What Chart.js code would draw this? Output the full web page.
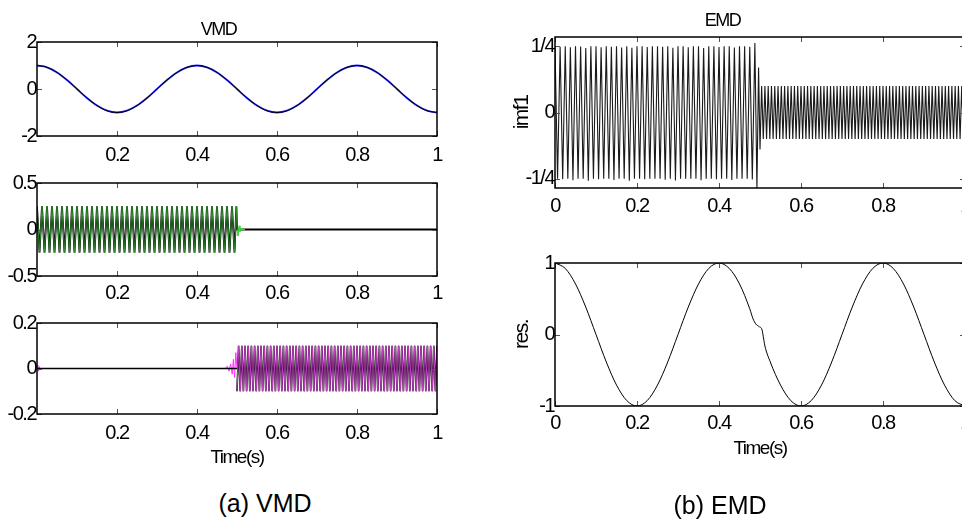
<!DOCTYPE html>
<html><head><meta charset="utf-8">
<script src="https://cdn.jsdelivr.net/npm/chart.js@4"></script>
<style>
html,body{margin:0;padding:0;background:#fff;overflow:hidden;width:962px;height:520px;}
#wrap{position:relative;width:962px;height:520px;overflow:hidden;background:#fff;}
canvas{position:absolute;}
.cap{position:absolute;font-family:'Liberation Sans',Arial,sans-serif;font-size:25px;color:#000;white-space:nowrap;transform:translate(-50%,-50%);}
</style></head><body>
<div id="wrap">
<canvas id="p1" width="470" height="175" style="left:0;top:0;"></canvas>
<canvas id="p2" width="470" height="170" style="left:0;top:150px;"></canvas>
<canvas id="p3" width="470" height="190" style="left:0;top:290px;"></canvas>
<canvas id="r1" width="568" height="230" style="left:480px;top:0;"></canvas>
<canvas id="r2" width="568" height="280" style="left:480px;top:240px;"></canvas>
<div class="cap" style="left:265px;top:503px;">(a) VMD</div>
<div class="cap" style="left:720px;top:505px;">(b) EMD</div>
</div>
<script>
// ---------- tick values / labels ----------
const leftXTicks = [0.2, 0.4, 0.6, 0.8, 1];
const leftXLabels = ['0.2', '0.4', '0.6', '0.8', '1'];
const rightXTicks = [0, 0.2, 0.4, 0.6, 0.8, 1];
const rightXLabels = ['0', '0.2', '0.4', '0.6', '0.8', '1'];
const vmd1YTicks = [-2, 0, 2];       const vmd1YLabels = ['-2', '0', '2'];
const vmd2YTicks = [-0.5, 0, 0.5];   const vmd2YLabels = ['-0.5', '0', '0.5'];
const vmd3YTicks = [-0.2, 0, 0.2];   const vmd3YLabels = ['-0.2', '0', '0.2'];
const imfYTicks = [-0.25, 0, 0.25];  const imfYLabels = ['-1/4', '0', '1/4'];
const resYTicks = [-1, 0, 1];        const resYLabels = ['-1', '0', '1'];

// ---------- VMD mode 1 / EMD residue (low-frequency component) ----------
const vmd1T = [0,0.025,0.05,0.075,0.1,0.125,0.15,0.175,0.2,0.225,0.25,0.275,0.3,0.325,0.35,0.375,0.4,0.425,0.45,0.475,0.5,0.525,0.55,0.575,0.6,0.625,0.65,0.675,0.7,0.725,0.75,0.775,0.8,0.825,0.85,0.875,0.9,0.925,0.95,0.975,1];
const vmd1V = [1,0.924,0.707,0.383,0,-0.383,-0.707,-0.924,-1,-0.924,-0.707,-0.383,0,0.383,0.707,0.924,1,0.924,0.707,0.383,0,-0.383,-0.707,-0.924,-1,-0.924,-0.707,-0.383,0,0.383,0.707,0.924,1,0.924,0.707,0.383,0,-0.383,-0.707,-0.924,-1];

const resT = [0,0.025,0.05,0.075,0.1,0.125,0.15,0.175,0.2,0.225,0.25,0.275,0.3,0.325,0.35,0.375,0.4,0.425,0.45,
  0.475,0.483,0.49,0.498,0.505,0.508,0.512,0.525,
  0.55,0.575,0.6,0.625,0.65,0.675,0.7,0.725,0.75,0.775,0.8,0.825,0.85,0.875,0.9,0.925,0.95,0.975,1];
const resV = [1,0.924,0.707,0.383,0,-0.383,-0.707,-0.924,-1,-0.924,-0.707,-0.383,0,0.383,0.707,0.924,1,0.924,0.707,
  0.36,0.22,0.145,0.11,0.065,-0.03,-0.16,-0.383,
  -0.707,-0.924,-1,-0.924,-0.707,-0.383,0,0.383,0.707,0.924,1,0.924,0.707,0.383,0,-0.383,-0.707,-0.924,-1];

// ---------- times of the 80 Hz component extremes (first half) ----------
const hfT = [0,0.00625,0.0125,0.01875,0.025,0.03125,0.0375,0.04375,0.05,0.05625,
  0.0625,0.06875,0.075,0.08125,0.0875,0.09375,0.1,0.10625,0.1125,0.11875,
  0.125,0.13125,0.1375,0.14375,0.15,0.15625,0.1625,0.16875,0.175,0.18125,
  0.1875,0.19375,0.2,0.20625,0.2125,0.21875,0.225,0.23125,0.2375,0.24375,
  0.25,0.25625,0.2625,0.26875,0.275,0.28125,0.2875,0.29375,0.3,0.30625,
  0.3125,0.31875,0.325,0.33125,0.3375,0.34375,0.35,0.35625,0.3625,0.36875,
  0.375,0.38125,0.3875,0.39375,0.4,0.40625,0.4125,0.41875,0.425,0.43125,
  0.4375,0.44375,0.45,0.45625,0.4625,0.46875,0.475,0.48125,0.4875,0.49375,0.4985,0.5,1];
const vmd2V = [0.25,-0.25,0.25,-0.25,0.25,-0.25,0.25,-0.25,0.25,-0.25,
  0.25,-0.25,0.25,-0.25,0.25,-0.25,0.25,-0.25,0.25,-0.25,
  0.25,-0.25,0.25,-0.25,0.25,-0.25,0.25,-0.25,0.25,-0.25,
  0.25,-0.25,0.25,-0.25,0.25,-0.25,0.25,-0.25,0.25,-0.25,
  0.25,-0.25,0.25,-0.25,0.25,-0.25,0.25,-0.25,0.25,-0.25,
  0.25,-0.25,0.25,-0.25,0.25,-0.25,0.25,-0.25,0.25,-0.25,
  0.25,-0.25,0.25,-0.25,0.25,-0.25,0.25,-0.25,0.25,-0.25,
  0.25,-0.25,0.25,-0.25,0.25,-0.25,0.25,-0.25,0.25,-0.25,0.25,0,0];
const greenTailT = [0.5,0.5025,0.505,0.5075,0.51,0.5125,0.515,0.52];
const greenTailV = [0,-0.07,0.04,-0.025,0.012,-0.005,0,0];

// ---------- times of the 125 Hz component extremes (second half) ----------
const t125 = [0.5,0.504,0.508,0.512,0.516,0.52,0.524,0.528,0.532,0.536,
  0.54,0.544,0.548,0.552,0.556,0.56,0.564,0.568,0.572,0.576,
  0.58,0.584,0.588,0.592,0.596,0.6,0.604,0.608,0.612,0.616,
  0.62,0.624,0.628,0.632,0.636,0.64,0.644,0.648,0.652,0.656,
  0.66,0.664,0.668,0.672,0.676,0.68,0.684,0.688,0.692,0.696,
  0.7,0.704,0.708,0.712,0.716,0.72,0.724,0.728,0.732,0.736,
  0.74,0.744,0.748,0.752,0.756,0.76,0.764,0.768,0.772,0.776,
  0.78,0.784,0.788,0.792,0.796,0.8,0.804,0.808,0.812,0.816,
  0.82,0.824,0.828,0.832,0.836,0.84,0.844,0.848,0.852,0.856,
  0.86,0.864,0.868,0.872,0.876,0.88,0.884,0.888,0.892,0.896,
  0.9,0.904,0.908,0.912,0.916,0.92,0.924,0.928,0.932,0.936,
  0.94,0.944,0.948,0.952,0.956,0.96,0.964,0.968,0.972,0.976,
  0.98,0.984,0.988,0.992,0.996,1];
const vmd3V = [-0.1,0.1,-0.1,0.1,-0.1,0.1,-0.1,0.1,-0.1,0.1,
  -0.1,0.1,-0.1,0.1,-0.1,0.1,-0.1,0.1,-0.1,0.1,
  -0.1,0.1,-0.1,0.1,-0.1,0.1,-0.1,0.1,-0.1,0.1,
  -0.1,0.1,-0.1,0.1,-0.1,0.1,-0.1,0.1,-0.1,0.1,
  -0.1,0.1,-0.1,0.1,-0.1,0.1,-0.1,0.1,-0.1,0.1,
  -0.1,0.1,-0.1,0.1,-0.1,0.1,-0.1,0.1,-0.1,0.1,
  -0.1,0.1,-0.1,0.1,-0.1,0.1,-0.1,0.1,-0.1,0.1,
  -0.1,0.1,-0.1,0.1,-0.1,0.1,-0.1,0.1,-0.1,0.1,
  -0.1,0.1,-0.1,0.1,-0.1,0.1,-0.1,0.1,-0.1,0.1,
  -0.1,0.1,-0.1,0.1,-0.1,0.1,-0.1,0.1,-0.1,0.1,
  -0.1,0.1,-0.1,0.1,-0.1,0.1,-0.1,0.1,-0.1,0.1,
  -0.1,0.1,-0.1,0.1,-0.1,0.1,-0.1,0.1,-0.1,0.1,
  -0.1,0.1,-0.1,0.1,-0.1,0.1];
const vmd3FlatT = [0, 0.5];
const vmd3FlatV = [0, 0];
const magStartT = [0,0.002,0.004,0.006,0.008,0.012];
const magStartV = [0,0.015,-0.012,0.008,-0.004,0];
const magEndT = [0.47,0.476,0.48,0.484,0.488,0.491,0.494,0.497,0.5];
const magEndV = [0,0.01,-0.012,0.02,-0.025,0.04,-0.04,0.07,0];

// ---------- EMD imf1 ----------
const imf1aV = [0.25,-0.25,0.248,-0.252,0.25,-0.25,0.246,-0.256,0.25,-0.25,
  0.249,-0.25,0.243,-0.258,0.25,-0.25,0.25,-0.252,0.246,-0.25,
  0.25,-0.25,0.248,-0.255,0.25,-0.25,0.245,-0.25,0.25,-0.258,
  0.244,-0.25,0.25,-0.25,0.25,-0.252,0.247,-0.25,0.25,-0.25,
  0.25,-0.25,0.248,-0.254,0.25,-0.25,0.244,-0.257,0.25,-0.25,
  0.25,-0.25,0.246,-0.25,0.25,-0.25,0.25,-0.256,0.243,-0.25,
  0.25,-0.25,0.25,-0.252,0.247,-0.25,0.25,-0.25,0.25,-0.255,
  0.245,-0.25,0.25,-0.25,0.25,-0.25,0.248,-0.253,0.262];
const imfMidT = [0.4925, 0.4965, 0.5];
const imfMidV = [-0.29, 0.17, -0.14];
const imf1bV = [0.1,-0.1,0.1,-0.1,0.1,-0.1,0.1,-0.1,0.1,-0.1,
  0.1,-0.1,0.1,-0.1,0.1,-0.1,0.1,-0.1,0.1,-0.1,
  0.1,-0.1,0.1,-0.1,0.1,-0.1,0.1,-0.1,0.1,-0.1,
  0.1,-0.1,0.1,-0.1,0.1,-0.1,0.1,-0.1,0.1,-0.1,
  0.1,-0.1,0.1,-0.1,0.1,-0.1,0.1,-0.1,0.1,-0.1,
  0.1,-0.1,0.1,-0.1,0.1,-0.1,0.1,-0.1,0.1,-0.1,
  0.1,-0.1,0.1,-0.1,0.1,-0.1,0.1,-0.1,0.1,-0.1,
  0.1,-0.1,0.1,-0.1,0.1,-0.1,0.1,-0.1,0.1,-0.1,
  0.1,-0.1,0.1,-0.1,0.1,-0.1,0.1,-0.1,0.1,-0.1,
  0.1,-0.1,0.1,-0.1,0.1,-0.1,0.1,-0.1,0.1,-0.1,
  0.1,-0.1,0.1,-0.1,0.1,-0.1,0.1,-0.1,0.1,-0.1,
  0.1,-0.1,0.1,-0.1,0.1,-0.1,0.1,-0.1,0.1,-0.1,
  0.1,-0.1,0.1,-0.1,0.1];

// ---------- helpers ----------
const FONT = "'Liberation Sans',Arial,sans-serif";
function xy(ts, vs) { return ts.map((t, i) => ({x: t, y: vs[i]})); }
function line(data, color, width, extra) {
  return Object.assign({data, borderColor: color, borderWidth: width, pointRadius: 0, tension: 0, fill: false}, extra || {});
}

// MATLAB-like box with inward tick marks; condensed-looking text
const framePlugin = {
  id: 'frame',
  beforeDraw(chart) { chart.ctx.letterSpacing = '-1.5px'; },
  afterDatasetsDraw(chart) {
    const {ctx, chartArea: a, scales} = chart;
    ctx.save();
    ctx.strokeStyle = '#555';
    ctx.lineWidth = 1;
    ctx.beginPath();
    scales.x.ticks.forEach(t => {
      const p = Math.round(scales.x.getPixelForValue(t.value)) + 0.5;
      ctx.moveTo(p, a.bottom); ctx.lineTo(p, a.bottom - 5);
      ctx.moveTo(p, a.top); ctx.lineTo(p, a.top + 5);
    });
    scales.y.ticks.forEach(t => {
      const p = Math.round(scales.y.getPixelForValue(t.value)) + 0.5;
      ctx.moveTo(a.left, p); ctx.lineTo(a.left + 5, p);
      ctx.moveTo(a.right, p); ctx.lineTo(a.right - 5, p);
    });
    ctx.stroke();
    ctx.strokeStyle = '#000';
    ctx.lineWidth = 1.5;
    ctx.strokeRect(a.left, a.top, a.right - a.left, a.bottom - a.top);
    ctx.restore();
  },
  afterDraw(chart) { chart.ctx.letterSpacing = '0px'; }
};

function makePanel(id, g) {
  const tickFont = {family: FONT, size: 20, lineHeight: 1};
  return new Chart(document.getElementById(id), {
    type: 'line',
    data: {datasets: g.datasets},
    options: {
      responsive: false, animation: false, events: [],
      layout: {padding: {left: 0, right: g.padRight, top: g.padTop, bottom: g.padBottom}},
      plugins: {
        legend: {display: false}, tooltip: {enabled: false},
        title: g.title ? {display: true, text: g.title.text, color: '#000',
          font: {family: FONT, size: 18, lineHeight: 1, weight: 'normal'},
          padding: {top: g.title.pt, bottom: g.title.pb}} : {display: false}
      },
      scales: {
        x: {
          type: 'linear', min: g.xmin, max: g.xmax,
          grid: {display: false, drawTicks: false}, border: {display: false},
          afterBuildTicks: s => { s.ticks = g.xTicks.map(v => ({value: v})); },
          afterFit: s => { s.height = g.xh; },
          ticks: {color: '#000', padding: g.xTickPad, maxRotation: 0, autoSkip: false, font: tickFont,
            callback: v => g.xLabels[g.xTicks.indexOf(v)]},
          title: g.xTitle ? {display: true, text: g.xTitle.text, color: '#000',
            font: {family: FONT, size: 19, lineHeight: 1}, padding: {top: 0, bottom: g.xTitle.pb}} : {display: false}
        },
        y: {
          type: 'linear', min: g.ymin, max: g.ymax,
          grid: {display: false, drawTicks: false}, border: {display: false},
          afterBuildTicks: s => { s.ticks = g.yTicks.map(v => ({value: v})); },
          afterFit: s => { s.width = g.yw; },
          ticks: {color: '#000', padding: 1, autoSkip: false, font: tickFont,
            callback: v => g.yLabels[g.yTicks.indexOf(v)]},
          title: g.yTitle ? {display: true, text: g.yTitle.text, color: '#000',
            font: {family: FONT, size: 21, lineHeight: 1}, padding: {top: g.yTitle.pt, bottom: 0}} : {display: false}
        }
      }
    },
    plugins: [framePlugin]
  });
}

// ---------- VMD panels ----------
makePanel('p1', {
  padRight: 33, padTop: 0, padBottom: 0, xh: 39, yw: 37, xTickPad: 9,
  xmin: 0, xmax: 1, ymin: -2, ymax: 2,
  xTicks: leftXTicks, xLabels: leftXLabels, yTicks: vmd1YTicks, yLabels: vmd1YLabels,
  title: {text: 'VMD', pt: 21, pb: 3},
  datasets: [
    line(xy(vmd1T, vmd1V), '#000000', 1, {cubicInterpolationMode: 'monotone'}),
    line(xy(vmd1T, vmd1V), '#2020ff', 1.8, {cubicInterpolationMode: 'monotone'})
  ]
});

makePanel('p2', {
  padRight: 33, padTop: 33, padBottom: 5, xh: 39, yw: 37, xTickPad: 7,
  xmin: 0, xmax: 1, ymin: -0.5, ymax: 0.5,
  xTicks: leftXTicks, xLabels: leftXLabels, yTicks: vmd2YTicks, yLabels: vmd2YLabels,
  datasets: [
    line(xy(greenTailT, greenTailV), '#33dd33', 1),
    line(xy(hfT.slice(0, 82), vmd2V.slice(0, 82)), '#2f8f2f', 1),
    line(xy(hfT, vmd2V), '#000000', 1.8)
  ]
});

makePanel('p3', {
  padRight: 33, padTop: 33, padBottom: 0, xh: 66, yw: 37, xTickPad: 9,
  xmin: 0, xmax: 1, ymin: -0.2, ymax: 0.2,
  xTicks: leftXTicks, xLabels: leftXLabels, yTicks: vmd3YTicks, yLabels: vmd3YLabels,
  xTitle: {text: 'Time(s)', pb: 13},
  datasets: [
    line(xy(vmd3FlatT, vmd3FlatV), '#000000', 1.3),
    line(xy(magStartT, magStartV), '#ff33ff', 1),
    line(xy(magEndT, magEndV), '#ff33ff', 1),
    line(xy(t125, vmd3V), '#c040c0', 1),
    line(xy(t125, vmd3V), '#000000', 1.6)
  ]
});

// ---------- EMD panels ----------
makePanel('r1', {
  padRight: 83, padTop: 0, padBottom: 0, xh: 42, yw: 75, xTickPad: 8,
  xmin: 0, xmax: 1, ymin: -0.285, ymax: 0.285,
  xTicks: rightXTicks, xLabels: rightXLabels, yTicks: imfYTicks, yLabels: imfYLabels,
  title: {text: 'EMD', pt: 12, pb: 7},
  yTitle: {text: 'imf1', pt: 32},
  datasets: [
    line(xy(hfT.slice(0, 79).concat(imfMidT, t125.slice(1)), imf1aV.concat(imfMidV, imf1bV)), '#1a1a1a', 1.1)
  ]
});

makePanel('r2', {
  padRight: 83, padTop: 23, padBottom: 54, xh: 60, yw: 75, xTickPad: 7,
  xmin: 0, xmax: 1, ymin: -1, ymax: 1,
  xTicks: rightXTicks, xLabels: rightXLabels, yTicks: resYTicks, yLabels: resYLabels,
  xTitle: {text: 'Time(s)', pb: 8},
  yTitle: {text: 'res.', pt: 32},
  datasets: [
    line(xy(resT, resV), '#000000', 1, {cubicInterpolationMode: 'monotone'})
  ]
});
</script>
</body></html>
